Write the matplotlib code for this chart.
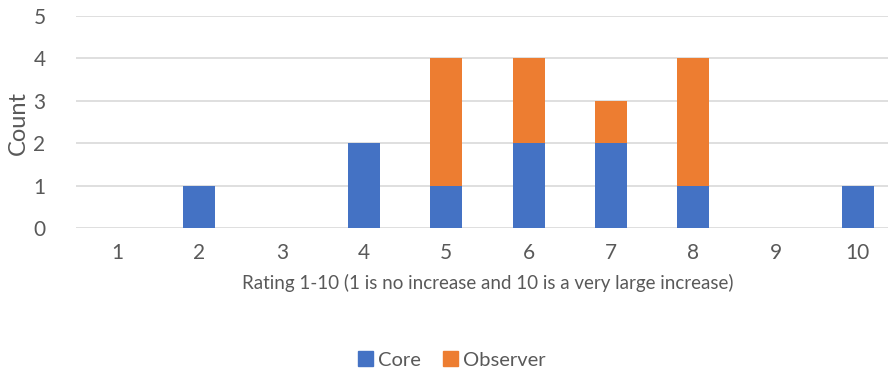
import numpy as np
import matplotlib.pyplot as plt
from matplotlib.patches import Patch

plt.rcParams['font.family'] = ['Lato', 'DejaVu Sans']

ratings = ["1", "2", "3", "4", "5", "6", "7", "8", "9", "10"]
core = [0, 1, 0, 2, 1, 2, 2, 1, 0, 1]
observer = [0, 0, 0, 0, 3, 2, 1, 3, 0, 0]

blue = "#4472C4"
orange = "#ED7D31"
text_c = "#595959"

fig = plt.figure(figsize=(8.88, 3.74), dpi=100)
ax = fig.add_axes([76/888, 1 - 228/374, 823/888, 212/374])

x = np.arange(len(ratings))
ax.bar(x, core, width=0.39, color=blue, zorder=3)
ax.bar(x, observer, width=0.39, bottom=core, color=orange, zorder=3)

ax.set_xlim(-0.5, len(ratings) - 0.5)
ax.set_ylim(0, 5)
ax.set_yticks(range(6))
ax.set_xticks(x)
ax.set_xticklabels(ratings)
ax.grid(axis='y', color="#D9D9D9", linewidth=1.2, zorder=0)
for s in ax.spines.values():
    s.set_visible(False)
ax.tick_params(length=0, labelsize=15, colors=text_c, pad=11)
ax.tick_params(axis='y', pad=22)

ax.set_xlabel("Rating 1-10 (1 is no increase and 10 is a very large increase)",
              fontsize=13.5, color=text_c, labelpad=8)
fig.text(18/888, 1 - 123/374, "Count", rotation=90, fontsize=17, color=text_c,
         ha='center', va='center')

handles = [Patch(color=blue, label="Core"), Patch(color=orange, label="Observer")]
fig.legend(handles=handles, loc='center', bbox_to_anchor=(452/888, 1 - 360/374),
           ncol=2, frameon=False, fontsize=14.5, labelcolor=text_c,
           handlelength=0.75, handleheight=0.75, handletextpad=0.25, columnspacing=1.1)

fig.savefig("out.png", dpi=100)
